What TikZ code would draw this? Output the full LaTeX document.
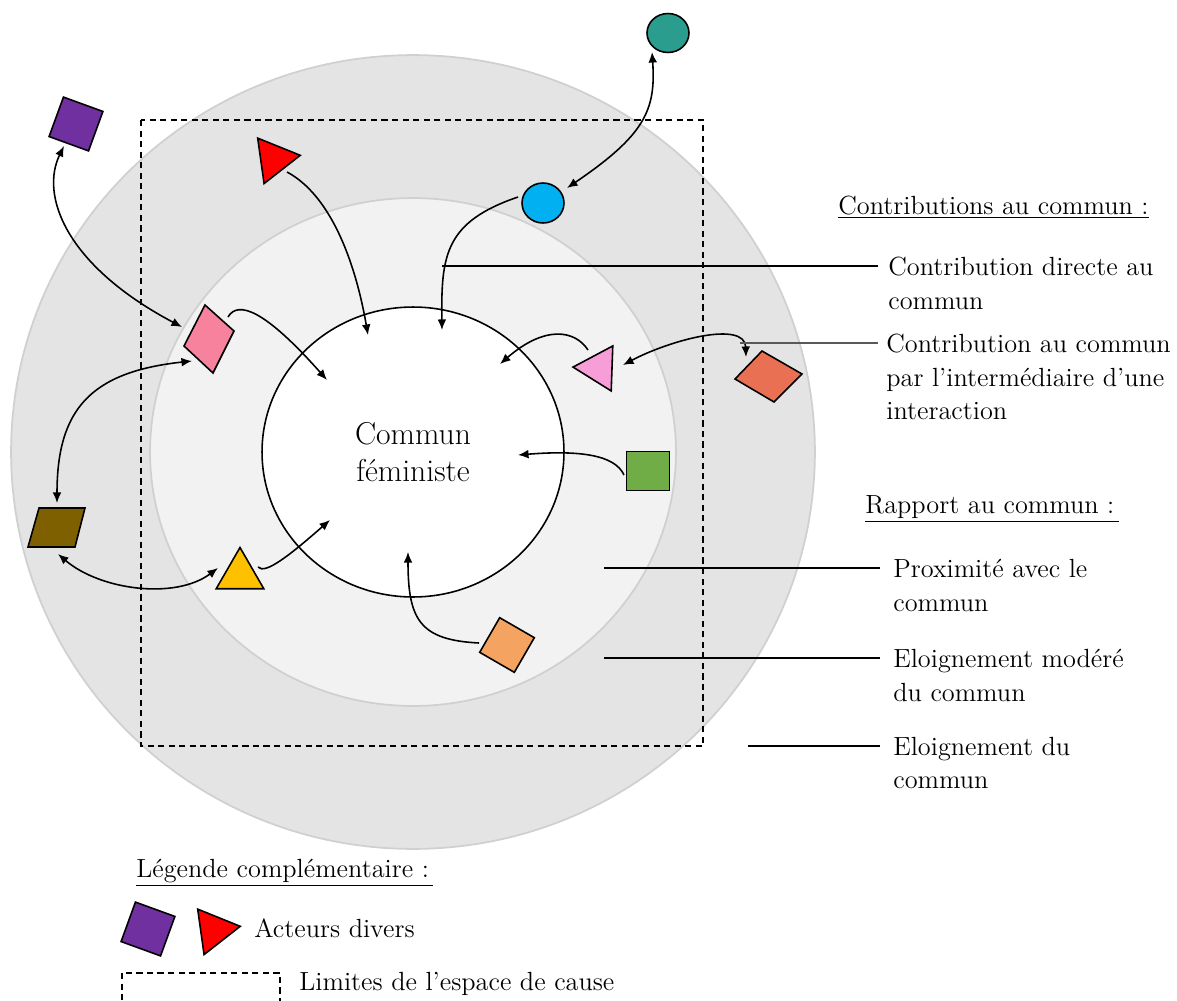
\documentclass[tikz,border=0pt]{standalone}
\usetikzlibrary{arrows.meta,shapes.geometric}

\definecolor{zone_out}{RGB}{228,228,228}
\definecolor{zone_mid}{RGB}{242,242,242}
\definecolor{zone_line}{RGB}{208,208,208}
\definecolor{c_purple}{RGB}{112,48,160}
\definecolor{c_teal}{RGB}{42,157,143}
\definecolor{c_blue}{RGB}{0,176,240}
\definecolor{c_pink}{RGB}{246,130,158}
\definecolor{c_lpink}{RGB}{247,158,216}
\definecolor{c_coral}{RGB}{233,112,83}
\definecolor{c_green}{RGB}{112,173,71}
\definecolor{c_brown}{RGB}{127,96,0}
\definecolor{c_yellow}{RGB}{255,192,0}
\definecolor{c_orange}{RGB}{244,164,96}

\begin{document}
\begin{tikzpicture}[x=0.02cm,y=-0.02cm]
  \tikzset{
    actor/.style={draw=black, line width=0.9pt, inner sep=0pt},
    tri_actor/.style={actor, regular polygon, regular polygon sides=3},
    zone/.style={ellipse, draw=zone_line, line width=1pt, inner sep=0pt},
    link/.style={line width=0.9pt, -{Latex[length=6pt,width=5pt]}},
    link_both/.style={line width=0.9pt, {Latex[length=6pt,width=5pt]}-{Latex[length=6pt,width=5pt]}},
    leader/.style={line width=0.6pt},
    label_txt/.style={anchor=north west, inner sep=0pt, align=left, font=\fontsize{14.95}{19}\selectfont},
    title_txt/.style={anchor=west, inner sep=0pt, font=\fontsize{14.95}{19}\selectfont},
    cause_limit/.style={line width=0.9pt, dash pattern=on 3.5pt off 2.5pt},
  }
  \useasboundingbox (0,0) rectangle (1177,1001);

  % zones
  \node[zone, fill=zone_out, minimum width=16.08cm, minimum height=15.88cm] (zone_far) at (413,452) {};
  \node[zone, fill=zone_mid, minimum width=10.52cm, minimum height=10.16cm] (zone_near) at (413,452) {};
  \draw[cause_limit] (141,120) rectangle (703,746);
  \node[ellipse, draw, fill=white, line width=0.9pt, minimum width=6.04cm, minimum height=5.8cm,
        align=center, font=\fontsize{18}{21}\selectfont] (commun) at (413,452) {Commun\\féministe};

  % actors
  \node[actor, fill=c_purple, minimum size=0.84cm, rotate=-20] (sq_purple) at (76,124) {};
  \node[tri_actor, fill=red, minimum size=1.06cm, rotate=-82] (tri_red) at (274,159) {};
  \node[actor, ellipse, fill=c_teal, minimum width=0.84cm, minimum height=0.78cm] (el_teal) at (668,33) {};
  \node[actor, ellipse, fill=c_blue, minimum width=0.84cm, minimum height=0.8cm] (el_blue) at (543,203) {};
  \coordinate (sq_pink) at (209,338);
  \draw[actor, fill=c_pink] ([shift={(-4,-33)}]sq_pink) -- ++(29,26) -- ++(-21,42) -- ++(-29,-27) -- cycle;
  \node[tri_actor, fill=c_lpink, minimum size=1.04cm, rotate=88] (tri_pink) at (599,368) {};
  \coordinate (dia_coral) at (768,376);
  \draw[actor, fill=c_coral] ([shift={(-6,-25)}]dia_coral) -- ++(40,23) -- ++(-28,28) -- ++(-39,-23) -- cycle;
  \node[actor, fill=c_green, minimum width=0.86cm, minimum height=0.78cm] (sq_green) at (648,471) {};
  \coordinate (par_brown) at (57,527);
  \draw[actor, fill=c_brown] ([shift={(-18,-19)}]par_brown) -- ++(46,0) -- ++(-10,39) -- ++(-47,0) -- cycle;
  \node[tri_actor, fill=c_yellow, minimum size=1.1cm] (tri_yellow) at (240,575) {};
  \node[actor, fill=c_orange, minimum size=0.8cm, rotate=-30] (sq_orange) at (507,645) {};

  % exchanges between actors
  \draw[link_both] ([shift={(-12,22)}]sq_purple.center) .. controls (40,195) and (65,265) .. ([shift={(-27,-11)}]sq_pink);
  \draw[link_both] ([shift={(0,-24)}]par_brown) .. controls (57,410) and (90,372) .. ([shift={(-17,23)}]sq_pink);
  \draw[link_both] ([shift={(1,27)}]par_brown) .. controls (100,590) and (175,600) .. ([shift={(-22,-7)}]tri_yellow.center);
  \draw[link_both] ([shift={(-16,19)}]el_teal.center) .. controls (656,110) and (645,135) .. ([shift={(24,-15)}]el_blue.center);
  \draw[link_both] ([shift={(24,-3)}]tri_pink.center) .. controls (670,340) and (745,320) .. ([shift={(-22,-19)}]dia_coral);

  % contributions
  \draw[link] ([shift={(18,-8)}]tri_yellow.center) .. controls (265,575) and (290,555) .. ([shift={(-83,68)}]commun.center);
  \draw[link] ([shift={(19,-21)}]sq_pink) .. controls (238,300) and (265,310) .. ([shift={(-86,-72)}]commun.center);
  \draw[link] ([shift={(13,13)}]tri_red.center) .. controls (330,195) and (355,260) .. ([shift={(-45,-117)}]commun.center);
  \draw[link] ([shift={(-25,-6)}]el_blue.center) .. controls (445,222) and (441,255) .. ([shift={(29,-122)}]commun.center);
  \draw[link] ([shift={(-11,-18)}]tri_pink.center) .. controls (575,330) and (545,325) .. ([shift={(87,-88)}]commun.center);
  \draw[link] ([shift={(-24,4)}]sq_green.center) .. controls (615,455) and (580,450) .. ([shift={(105,3)}]commun.center);
  \draw[link] ([shift={(-28,-2)}]sq_orange.center) .. controls (420,640) and (408,620) .. ([shift={(-5,100)}]commun.center);

  % legend on the right
  \node[title_txt] (title_contrib) at (838,207) {\underline{Contributions au commun :}};
  \node[label_txt] (txt_direct) at (888,257) {Contribution directe au\\commun};
  \node[label_txt] (txt_inter) at (886,334) {Contribution au commun\\par l’intermédiaire d’une\\interaction};
  \node[title_txt] (title_rapport) at (865,509) {\underline{Rapport au commun :\,}};
  \node[label_txt] (txt_prox) at (893,559) {Proximité avec le\\commun};
  \node[label_txt] (txt_mod) at (893,649) {Eloignement modéré\\du commun};
  \node[label_txt] (txt_far) at (893,737) {Eloignement du\\commun};

  \coordinate (p_direct) at (442,266);
  \coordinate (p_inter) at (740,343);
  \coordinate (p_prox) at (604,568);
  \coordinate (p_mod) at (604,658);
  \coordinate (p_far) at (748,746);
  \draw[leader] (p_direct) -- ([xshift=-0.2cm]p_direct -| txt_direct.west);
  \draw[leader, black!65] (p_inter) -- ([xshift=-0.16cm]p_inter -| txt_inter.west);
  \draw[leader] (p_prox) -- ([xshift=-0.26cm]p_prox -| txt_prox.west);
  \draw[leader] (p_mod) -- ([xshift=-0.26cm]p_mod -| txt_mod.west);
  \draw[leader] (p_far) -- ([xshift=-0.26cm]p_far -| txt_far.west);

  % legend below
  \node[title_txt] (title_legend) at (136,873) {\underline{Légende complémentaire :\,}};
  \node[actor, fill=c_purple, minimum size=0.84cm, rotate=-20] (leg_sq) at (148,929) {};
  \node[tri_actor, fill=red, minimum size=1.06cm, rotate=-82] (leg_tri) at (214,930) {};
  \node[title_txt] (txt_actors) at (254,928) {Acteurs divers};
  \draw[cause_limit] (122,973) rectangle (280,1015);
  \node[title_txt] (txt_limit) at (299,984) {Limites de l’espace de cause};
\end{tikzpicture}
\end{document}
